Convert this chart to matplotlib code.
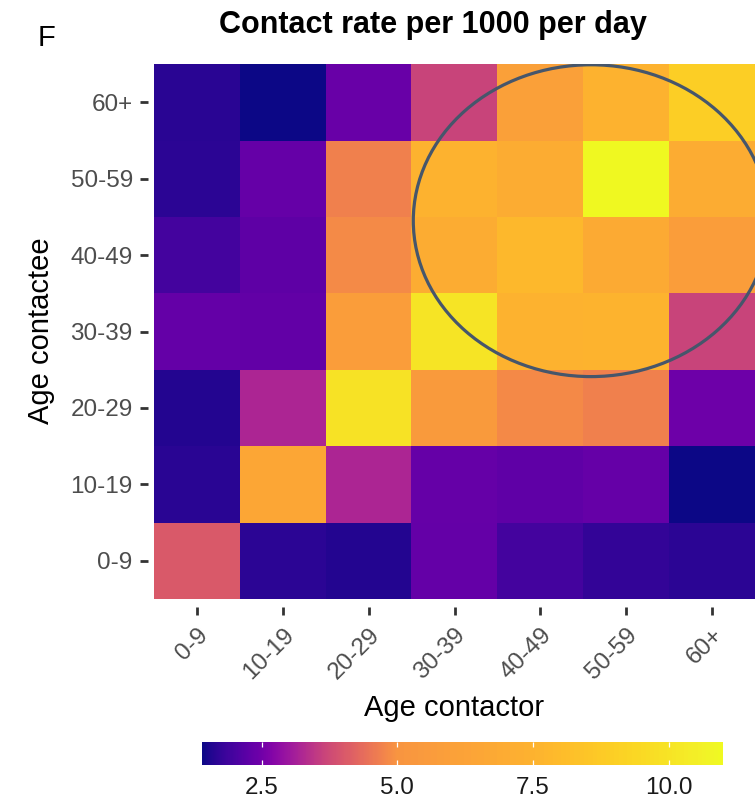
import numpy as np
import matplotlib
matplotlib.use("Agg")
import matplotlib.pyplot as plt
from matplotlib.colors import ListedColormap, Normalize
from matplotlib.patches import Ellipse

plt.rcParams['font.family'] = ['Liberation Sans', 'DejaVu Sans']

# ---- data ----
age_groups = ["0-9", "10-19", "20-29", "30-39", "40-49", "50-59", "60+"]
# rows: age contactee (0-9 ... 60+); columns: age contactor (0-9 ... 60+)
contactee_0_9   = [4.04, 1.68, 1.60, 2.33, 1.95, 1.75, 1.68]
contactee_10_19 = [1.65, 6.56, 3.20, 2.35, 2.28, 2.35, 1.40]
contactee_20_29 = [1.60, 3.20, 9.90, 5.60, 4.82, 4.69, 2.45]
contactee_30_39 = [2.33, 2.30, 5.80, 10.00, 7.50, 7.60, 3.66]
contactee_40_49 = [1.95, 2.25, 4.84, 7.00, 7.80, 6.90, 5.80]
contactee_50_59 = [1.68, 2.35, 4.69, 7.50, 7.03, 11.00, 7.00]
contactee_60p   = [1.65, 1.40, 2.40, 3.66, 6.10, 7.50, 8.96]
cbar_ticks = [2.5, 5.0, 7.5, 10.0]
cbar_labels = ["2.5", "5.0", "7.5", "10.0"]

Z = np.array([contactee_0_9, contactee_10_19, contactee_20_29, contactee_30_39,
              contactee_40_49, contactee_50_59, contactee_60p])

vmin, vmax = 1.4, 11.0

# nonlinear plasma colour scale (value -> position in plasma)
node_v = [1.4, 2.5, 3.7, 5.0, 7.5, 10.0, 11.0]
node_p = [0.0, 0.22, 0.50, 0.75, 0.83, 0.95, 1.0]
plasma = plt.get_cmap('plasma')
vv = np.linspace(vmin, vmax, 512)
cmap = ListedColormap(plasma(np.interp(vv, node_v, node_p)))
norm = Normalize(vmin=vmin, vmax=vmax)

W, H = 755, 801
fig = plt.figure(figsize=(W / 100, H / 100), dpi=100)

ax = fig.add_axes([154 / W, 1 - 599 / H, (755 - 154) / W, (599 - 64) / H])
im = ax.imshow(Z, origin='lower', cmap=cmap, norm=norm, aspect='auto',
               extent=(-0.5, 6.5, -0.5, 6.5), interpolation='nearest')
ax.set_xlim(-0.5, 6.5)
ax.set_ylim(-0.5, 6.5)

ax.add_patch(Ellipse((4.59, 4.45), width=2 * 2.07, height=2 * 2.04,
                     fill=False, edgecolor='#46566b', linewidth=2.3))

for s in ['top', 'right']:
    ax.spines[s].set_visible(False)
ax.spines['left'].set_position(('outward', 4.5))
ax.spines['bottom'].set_position(('outward', 5.8))
ax.spines['left'].set_visible(False)
ax.spines['bottom'].set_visible(False)

ax.set_xticks(range(7))
ax.set_yticks(range(7))
ax.set_yticklabels(age_groups)
ax.set_xticklabels(age_groups, rotation=45, ha='right', va='top',
                   rotation_mode='anchor')
ax.tick_params(axis='both', length=5.8, width=2.0, color='#333333',
               labelsize=17.5, labelcolor='#4d4d4d')
ax.tick_params(axis='y', pad=5)
ax.tick_params(axis='x', pad=6.5)

fig.text(454.5 / W, 1 - 716 / H, "Age contactor", ha='center', va='baseline',
         fontsize=21, color='black')
fig.text(41 / W, 1 - 331 / H, "Age contactee", ha='center', va='center',
         rotation=90, fontsize=21, color='black')
fig.text(433 / W, 1 - 33 / H, "Contact rate per 1000 per day", ha='center',
         va='baseline', fontsize=22, fontweight='bold', color='black')
fig.text(38 / W, 1 - 46 / H, "F", ha='left', va='baseline', fontsize=21,
         color='black')

cax = fig.add_axes([202 / W, 1 - 765 / H, 521 / W, 23 / H])
cbar = fig.colorbar(im, cax=cax, orientation='horizontal')
cbar.outline.set_visible(False)
cbar.ax.minorticks_off()
cbar.set_ticks(cbar_ticks, labels=cbar_labels)
cax.tick_params(which='both', direction='in', color='white', length=3.3,
                width=0.9, top=True, bottom=True, labeltop=False,
                labelsize=17.5, labelcolor='#1a1a1a', pad=9)

fig.savefig("out.png", dpi=100)
